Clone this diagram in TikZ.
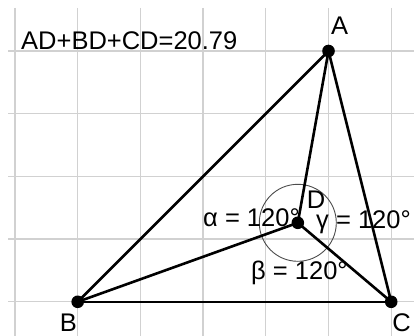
\documentclass[tikz,border=0pt]{standalone}
\usepackage{fontspec}
\setmainfont{Liberation Sans}
\begin{document}
\begin{tikzpicture}[x=1pt,y=-1pt,
  gridline/.style={draw=black!18,line width=1.3pt},
  seg/.style={draw=black,line width=2.6pt,line cap=round},
  dot/.style={circle,fill=black,inner sep=0pt,minimum size=12.6pt},
  lbl/.style={inner sep=0pt,font=\fontsize{25.5}{30}\selectfont},
  anglbl/.style={inner sep=0pt,anchor=base west,font=\fontsize{25.5}{30}\selectfont}]
\useasboundingbox (0,0) rectangle (414,336);
% grid
\foreach \k in {0,...,6}{
  \draw[gridline] ({15+62.7*\k},8) -- ({15+62.7*\k},336);
}
\foreach \k in {0,...,4}{
  \draw[gridline] (8,{51+62.7*\k}) -- (414,{51+62.7*\k});
}
% points
\coordinate (A) at (328.5,51);
\coordinate (B) at (77.7,301.8);
\coordinate (C) at (391.2,301.8);
\coordinate (D) at (297.8,222.8);
% circle
\draw[black!70,line width=0.9pt] (D) circle[radius=38.5];
% segments
\draw[seg] (A) -- (B);
\draw[seg] (B) -- (C);
\draw[seg] (C) -- (A);
\draw[seg] (D) -- (A);
\draw[seg] (D) -- (B);
\draw[seg] (D) -- (C);
% dots
\node[dot] (pA) at (A) {};
\node[dot] (pB) at (B) {};
\node[dot] (pC) at (C) {};
\node[dot] (pD) at (D) {};
% labels
\node[lbl] (lA) at (339.5,26) {A};
\node[lbl] (lB) at (68.5,323) {B};
\node[lbl] (lC) at (401.5,323) {C};
\node[lbl] (lD) at (316,200) {D};
\node[anglbl] (al) at (203,227) {α = 120°};
\node[anglbl] (ga) at (316,228.5) {γ = 120°};
\node[anglbl] (be) at (251,279) {β = 120°};
\node[anglbl] (sum) at (21,50) {AD+BD+CD=20.79};
\end{tikzpicture}
\end{document}
